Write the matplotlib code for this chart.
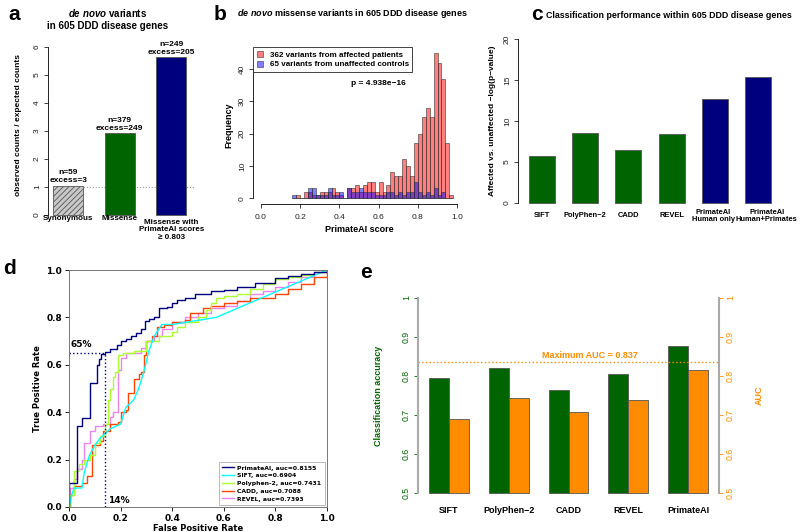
import matplotlib
matplotlib.use("Agg")
import matplotlib.pyplot as plt
from matplotlib.patches import Patch
from matplotlib.lines import Line2D

plt.rcParams["font.family"] = ["Liberation Sans", "DejaVu Sans"]
plt.rcParams["mathtext.fontset"] = "custom"
plt.rcParams["mathtext.it"] = "Liberation Sans:italic:bold"
plt.rcParams["mathtext.rm"] = "Liberation Sans:bold"
plt.rcParams["mathtext.bf"] = "Liberation Sans:bold"
plt.rcParams["hatch.linewidth"] = 0.6

# ---- data ----
# a: observed / expected ratios
a_labels = ["Synonymous", "Missense", "Missense with\nPrimateAI scores\n\u2265 0.803"]
a_ratio = [1.05, 2.92, 5.63]
a_n = [59, 379, 249]
a_excess = [3, 249, 205]

# b: histogram counts, bins of 0.02 starting at 0.16
b_bin_start = [0.16, 0.18, 0.20, 0.22, 0.24, 0.26, 0.28, 0.30, 0.32, 0.34, 0.36, 0.38,
               0.40, 0.42, 0.44, 0.46, 0.48, 0.50, 0.52, 0.54, 0.56, 0.58, 0.60, 0.62,
               0.64, 0.66, 0.68, 0.70, 0.72, 0.74, 0.76, 0.78, 0.80, 0.82, 0.84, 0.86,
               0.88, 0.90, 0.92, 0.94, 0.96]
b_affected = [0, 1, 0, 2, 2, 1, 1, 2, 2, 2, 3, 2,
              1, 0, 3, 3, 4, 2, 4, 5, 5, 2, 5, 2,
              4, 8, 7, 7, 12, 10, 7, 17, 20, 25, 28, 25,
              45, 42, 37, 17, 1]
b_controls = [1, 0, 0, 0, 3, 3, 1, 1, 1, 3, 1, 1,
              2, 0, 3, 2, 2, 3, 2, 2, 2, 1, 1, 1,
              2, 2, 1, 2, 1, 2, 2, 5, 2, 1, 2, 1,
              3, 1, 2, 0, 0]
b_n_affected = 362
b_n_controls = 65
b_pvalue = "p = 4.938e\u221216"

# c: -log(p) per classifier
c_labels = ["SIFT", "PolyPhen\u22122", "CADD", "REVEL", "PrimateAI\nHuman only", "PrimateAI\nHuman+Primates"]
c_values = [5.7, 8.55, 6.45, 8.4, 12.65, 15.35]

# d: ROC curves
primate_fpr = [0, 0, 0.03, 0.05, 0.08, 0.107, 0.118, 0.125, 0.14, 0.16, 0.185, 0.20, 0.22, 0.24,
               0.26, 0.28, 0.295, 0.31, 0.33, 0.35, 0.38, 0.40, 0.42, 0.45, 0.49, 0.55, 0.60,
               0.65, 0.72, 0.80, 0.85, 0.90, 0.95, 1.0]
primate_tpr = [0, 0.10, 0.34, 0.375, 0.525, 0.60, 0.625, 0.645, 0.655, 0.665, 0.685, 0.70,
               0.71, 0.72, 0.735, 0.75, 0.785, 0.795, 0.80, 0.84, 0.845, 0.86, 0.875, 0.88,
               0.90, 0.91, 0.915, 0.93, 0.945, 0.965, 0.975, 0.985, 0.99, 1.0]
sift_fpr = [0, 0.01, 0.02, 0.05, 0.06, 0.08, 0.10, 0.12, 0.14, 0.16, 0.18, 0.20, 0.22, 0.25,
            0.27, 0.29, 0.31, 0.33, 0.36, 0.40, 0.57, 1.0]
sift_tpr = [0, 0.05, 0.08, 0.08, 0.15, 0.22, 0.26, 0.29, 0.31, 0.33, 0.34, 0.35, 0.42, 0.45,
            0.50, 0.57, 0.66, 0.72, 0.77, 0.77, 0.80, 1.0]
poly_fpr = [0, 0.005, 0.02, 0.04, 0.06, 0.08, 0.10, 0.12, 0.14, 0.15, 0.16, 0.17, 0.18, 0.19,
            0.21, 0.25, 0.30, 0.35, 0.40, 0.42, 0.45, 0.50, 0.53, 0.55, 0.57, 0.60, 0.65,
            0.70, 0.75, 0.80, 0.85, 0.90, 0.95, 1.0]
poly_tpr = [0, 0.05, 0.15, 0.18, 0.20, 0.22, 0.27, 0.30, 0.35, 0.45, 0.50, 0.55, 0.57, 0.64,
            0.65, 0.66, 0.70, 0.72, 0.74, 0.76, 0.78, 0.80, 0.83, 0.86, 0.88, 0.89, 0.90,
            0.92, 0.94, 0.96, 0.97, 0.98, 0.99, 1.0]
cadd_fpr = [0, 0.005, 0.02, 0.05, 0.07, 0.09, 0.12, 0.13, 0.16, 0.19, 0.20, 0.22, 0.23, 0.25,
            0.27, 0.28, 0.29, 0.30, 0.32, 0.34, 0.37, 0.40, 0.45, 0.47, 0.52, 0.55, 0.60,
            0.65, 0.70, 0.80, 0.85, 0.90, 0.95, 1.0]
cadd_tpr = [0, 0.05, 0.09, 0.10, 0.13, 0.26, 0.28, 0.32, 0.35, 0.36, 0.40, 0.41, 0.48, 0.54,
            0.56, 0.57, 0.64, 0.70, 0.72, 0.76, 0.77, 0.78, 0.79, 0.82, 0.84, 0.85, 0.86,
            0.87, 0.88, 0.90, 0.92, 0.94, 0.97, 1.0]
revel_fpr = [0, 0.005, 0.02, 0.03, 0.05, 0.06, 0.08, 0.10, 0.13, 0.16, 0.17, 0.19, 0.20, 0.22,
             0.28, 0.30, 0.33, 0.36, 0.40, 0.45, 0.50, 0.55, 0.60, 0.65, 0.70, 0.75, 0.80,
             0.85, 0.90, 0.95, 1.0]
revel_tpr = [0, 0.08, 0.12, 0.16, 0.20, 0.27, 0.32, 0.34, 0.35, 0.38, 0.40, 0.58, 0.63, 0.65,
             0.67, 0.70, 0.72, 0.75, 0.78, 0.80, 0.82, 0.84, 0.85, 0.87, 0.90, 0.91, 0.93,
             0.95, 0.97, 0.99, 1.0]
roc_names = ["PrimateAI", "SIFT", "Polyphen-2", "CADD", "REVEL"]
roc_auc = [0.8155, 0.6904, 0.7431, 0.7088, 0.7393]
highlight_fpr = 0.14
highlight_tpr = 0.65

# e: accuracy and AUC
e_labels = ["SIFT", "PolyPhen\u22122", "CADD", "REVEL", "PrimateAI"]
e_accuracy = [0.795, 0.82, 0.764, 0.806, 0.877]
e_auc = [0.6904, 0.7431, 0.7088, 0.7393, 0.8155]
max_auc = 0.837

GREEN = "#006400"
NAVY = "#00007F"
ORANGE = "#FF8C00"
W, H = 800, 532

fig = plt.figure(figsize=(8, 5.32), dpi=100)


def px_axes(l, t, r, b):
    return fig.add_axes([l / W, 1 - b / H, (r - l) / W, (b - t) / H])


def ftext(x, y, s, **kw):
    return fig.text(x / W, 1 - y / H, s, **kw)


def r_yaxis(ax, ticks, labels=None, color="#222222", size=6):
    ax.set_yticks(ticks)
    if labels is not None:
        ax.set_yticklabels(labels)
    ax.tick_params(axis="y", direction="out", length=3, width=0.6,
                   labelsize=size, colors=color, pad=2)
    for lab in ax.get_yticklabels():
        lab.set_rotation(90)
        lab.set_va("center")


# ---------------- panel a ----------------
ax = px_axes(48, 40.3, 200, 221.7)
ax.set_ylim(-0.24, 6.24)
ax.set_xlim(-0.39, 2.56)
bars = ax.bar(range(3), a_ratio, width=0.58, color=["#c8c8c8", GREEN, NAVY],
              edgecolor="#555555", linewidth=0.6)
bars[0].set_hatch("//////")
ax.axhline(1, color="#999999", ls=":", lw=0.8, xmin=0.04, xmax=0.96, zorder=0)
for i, (h, n, e) in enumerate(zip(a_ratio, a_n, a_excess)):
    ax.text(i, h + 0.06, f"n={n}\nexcess={e}", ha="center", va="bottom",
            fontsize=6, fontweight="bold", linespacing=1.1)
for i, lab in enumerate(a_labels):
    ax.text(i, -0.14, lab, ha="center", va="center" if "\n" not in lab else "top",
            fontsize=5.8, fontweight="bold", linespacing=1.1)
for s in ["top", "right", "bottom"]:
    ax.spines[s].set_visible(False)
ax.spines["left"].set_bounds(0, 6)
ax.spines["left"].set_linewidth(0.6)
ax.set_xticks([])
r_yaxis(ax, range(7))
ftext(19, 125, "observed counts / expected counts", rotation=90, ha="center", va="center",
      fontsize=6, fontweight="bold")
ftext(108, 19, "$\\it{de\\ novo}$ variants\nin 605 DDD disease genes", ha="center",
      va="center", fontsize=7, fontweight="bold", linespacing=1.3)

# ---------------- panel b ----------------
ax = px_axes(253, 47, 465, 204)
ax.set_xlim(-0.04, 1.04)
ax.set_ylim(-1.8, 46.8)
ax.bar(b_bin_start, b_affected, width=0.02, align="edge", color=(1, 0, 0, 0.5),
       edgecolor="#333333", linewidth=0.4)
ax.bar(b_bin_start, b_controls, width=0.02, align="edge", color=(0, 0, 1, 0.5),
       edgecolor="#333333", linewidth=0.4)
for s in ["top", "right"]:
    ax.spines[s].set_visible(False)
ax.spines["left"].set_bounds(0, 40)
ax.spines["bottom"].set_bounds(0, 1)
for s in ["left", "bottom"]:
    ax.spines[s].set_linewidth(0.6)
ax.set_xticks([0, 0.2, 0.4, 0.6, 0.8, 1.0])
ax.set_xticklabels(["0.0", "0.2", "0.4", "0.6", "0.8", "1.0"])
ax.tick_params(axis="x", direction="out", length=3, width=0.6, labelsize=6,
               colors="#222222", pad=4)
r_yaxis(ax, [0, 10, 20, 30, 40])
ax.set_xlabel("PrimateAI score", fontsize=6.5, fontweight="bold", labelpad=3)
ax.set_ylabel("Frequency", fontsize=6.5, fontweight="bold", labelpad=4)
handles = [Patch(facecolor=(1, 0, 0, 0.5), edgecolor="#333333", linewidth=0.4),
           Patch(facecolor=(0, 0, 1, 0.5), edgecolor="#333333", linewidth=0.4)]
leg = ax.legend(handles, [f"{b_n_affected} variants from affected patients",
                          f"{b_n_controls} variants from unaffected controls"],
                loc="upper left", borderaxespad=0, fancybox=False, framealpha=1,
                edgecolor="#222222", prop={"size": 5.8, "weight": "bold"},
                handlelength=0.8, handleheight=0.8, handletextpad=0.8,
                labelspacing=0.25, borderpad=0.45)
leg.get_frame().set_linewidth(0.6)
ax.text(0.6, 35.6, b_pvalue, ha="center", va="center", fontsize=6, fontweight="bold")
ftext(352, 14, "$\\it{de\\ novo}$ missense variants in 605 DDD disease genes",
      ha="center", va="center", fontsize=6.5, fontweight="bold")

# ---------------- panel c ----------------
ax = px_axes(518, 32.4, 785, 209.6)
ax.set_ylim(-0.8, 20.8)
ax.set_xlim(-0.556, -0.556 + (785 - 518) / 43.2)
ax.bar(range(len(c_values)), c_values, width=0.6,
       color=[GREEN, GREEN, GREEN, GREEN, NAVY, NAVY], edgecolor="#555555", linewidth=0.6)
for s in ["top", "right", "bottom"]:
    ax.spines[s].set_visible(False)
ax.spines["left"].set_bounds(0, 20)
ax.spines["left"].set_linewidth(0.6)
ax.set_xticks([])
# last label sits a little right of its bar, as in the original
c_nudge = [0, 0, 0, 0, -0.03, 0.2]
for i, lab in enumerate(c_labels):
    ax.text(i + c_nudge[i], -1.55, lab, ha="center", va="center", fontsize=5.4,
            fontweight="bold", linespacing=1.1)
r_yaxis(ax, [0, 5, 10, 15, 20])
ftext(492, 121, "Affected vs. unaffected \u2212log(p\u2212value)", rotation=90, ha="center",
      va="center", fontsize=6, fontweight="bold")
ftext(669, 15, "Classification performance within 605 DDD disease genes", ha="center",
      va="center", fontsize=6.4, fontweight="bold")

# ---------------- panel d ----------------
ax = px_axes(69, 270, 327, 507)
ax.set_xlim(0, 1)
ax.set_ylim(0, 1)
roc_x = [primate_fpr, sift_fpr, poly_fpr, cadd_fpr, revel_fpr]
roc_y = [primate_tpr, sift_tpr, poly_tpr, cadd_tpr, revel_tpr]
roc_colors = ["navy", "cyan", "greenyellow", "orangered", "violet"]
roc_steps = ["steps-post", "default", "steps-post", "steps-post", "steps-post"]
for k in [4, 3, 2, 1, 0]:
    ax.plot(roc_x[k], roc_y[k], color=roc_colors[k], lw=1, drawstyle=roc_steps[k])
ax.plot([0, highlight_fpr], [highlight_tpr, highlight_tpr], color="navy", ls=":", lw=1)
ax.plot([highlight_fpr, highlight_fpr], [0, highlight_tpr], color="navy", ls=":", lw=1)
ax.text(0.005, highlight_tpr + 0.015, f"{round(highlight_tpr * 100)}%", fontsize=6.5,
        fontweight="bold", family="DejaVu Sans", va="bottom")
ax.text(highlight_fpr + 0.01, 0.01, f"{round(highlight_fpr * 100)}%", fontsize=6.5,
        fontweight="bold", family="DejaVu Sans", va="bottom")
ax.set_xticks([0, 0.2, 0.4, 0.6, 0.8, 1.0])
ax.set_yticks([0, 0.2, 0.4, 0.6, 0.8, 1.0])
ax.tick_params(labelsize=6.5, length=3, width=0.6, pad=2)
for lab in ax.get_xticklabels() + ax.get_yticklabels():
    lab.set_family("DejaVu Sans")
    lab.set_fontweight("bold")
for s in ax.spines.values():
    s.set_color("#777777")
    s.set_linewidth(0.7)
ax.set_xlabel("False Positive Rate", fontsize=6, fontweight="bold", family="DejaVu Sans",
              labelpad=1)
ax.set_ylabel("True Positive Rate", fontsize=6, fontweight="bold", family="DejaVu Sans",
              labelpad=3)
leg_handles = [Line2D([], [], color=c, lw=1) for c in roc_colors]
leg_labels = [f"{n}, auc={a}" for n, a in zip(roc_names, roc_auc)]
leg = ax.legend(leg_handles, leg_labels, loc="lower right",
                prop={"size": 4.4, "weight": "bold", "family": "DejaVu Sans"},
                handlelength=2.0, handletextpad=0.6, labelspacing=0.4, borderpad=0.5,
                borderaxespad=0.4, fancybox=False, edgecolor="#999999")
leg.get_frame().set_linewidth(0.6)

# ---------------- panel e ----------------
ax = px_axes(418, 290.2, 719, 500.8)
ax.set_xlim(-0.518, 4.518)
ax.set_ylim(0.48, 1.02)
xs = range(len(e_labels))
ax.bar([x - 0.167 for x in xs], [v - 0.5 for v in e_accuracy], bottom=0.5, width=0.334,
       color=GREEN, edgecolor="#555555", linewidth=0.6)
ax.bar([x + 0.167 for x in xs], [v - 0.5 for v in e_auc], bottom=0.5, width=0.334,
       color=ORANGE, edgecolor="#555555", linewidth=0.6)
ax.axhline(max_auc, color=ORANGE, ls=":", lw=1)
ax.text(2.36, max_auc + 0.015, f"Maximum AUC = {max_auc}", ha="center", va="center",
        color=ORANGE, fontsize=6.5, fontweight="bold")
ax2 = ax.twinx()
ax2.set_ylim(0.48, 1.02)
e_ticks = [0.5, 0.6, 0.7, 0.8, 0.9, 1.0]
e_ticklabels = ["0.5", "0.6", "0.7", "0.8", "0.9", "1"]
for a_, side, col in [(ax, "left", GREEN), (ax2, "right", ORANGE)]:
    for s in ["top", "bottom", "left", "right"]:
        a_.spines[s].set_visible(s == side)
    a_.spines[side].set_bounds(0.5, 1)
    a_.spines[side].set_color("#aaaaaa")
    a_.spines[side].set_linewidth(1.5)
    r_yaxis(a_, e_ticks, e_ticklabels, color=col, size=6.3)
ax.set_xticks(list(xs))
ax.set_xticklabels(e_labels, fontsize=6.5, fontweight="bold")
ax.tick_params(axis="x", length=0, pad=4)
ax.set_ylabel("Classification accuracy", color=GREEN, fontsize=6.5, fontweight="bold",
              labelpad=14)
ax2.set_ylabel("AUC", color=ORANGE, fontsize=6.5, fontweight="bold", labelpad=14)

# panel letters
for letter, x, y in [("a", 14, 14), ("b", 220, 14), ("c", 537, 14), ("d", 10, 268),
                     ("e", 366, 272)]:
    ftext(x, y, letter, fontsize=15, fontweight="bold", ha="center", va="center")

fig.savefig("out.png", dpi=100)
